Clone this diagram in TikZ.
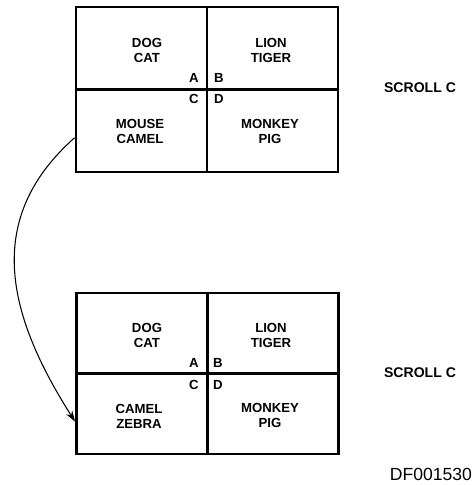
\documentclass[tikz,border=0pt]{standalone}
\usepackage{fontspec}
\setmainfont{Liberation Sans}
\usetikzlibrary{arrows.meta, positioning, calc}

\begin{document}
\begin{tikzpicture}[x=0.02cm, y=-0.02cm,
    grid/.style={draw, line width=1.6pt, minimum width=5.24cm, inner sep=0pt},
    animal/.style={font=\fontsize{7.5}{8.5}\selectfont\bfseries, align=center, inner sep=0pt},
    corner/.style={font=\fontsize{7.5}{8.5}\selectfont\bfseries, inner sep=0pt},
    scroll/.style={font=\fontsize{8}{9}\selectfont\bfseries, inner sep=0pt},
    arr/.style={-{Stealth[length=2.2mm, width=1.4mm]}, line width=0.6pt}
]
    \useasboundingbox (0,0) rectangle (475,485);

    % top grid
    \node[grid, minimum height=3.3cm] (g1) at (207,89.5) {};
    \draw[line width=1.6pt] (g1.north) -- (g1.south);
    \draw[line width=1.6pt] (g1.west) -- (g1.east);
    \node[animal] (dogcat1) at (147,50) {DOG\\CAT};
    \node[animal] (liontiger1) at (271,50) {LION\\TIGER};
    \node[animal] (mousecamel1) at (140,131) {MOUSE\\CAMEL};
    \node[animal] (monkeypig1) at (270,131) {MONKEY\\PIG};
    \node[corner] (a1) at (194,78) {A};
    \node[corner] (b1) at (219,78) {B};
    \node[corner] (c1) at (194,99) {C};
    \node[corner] (d1) at (219,99) {D};
    \node[scroll] (scroll1) at (420,88) {SCROLL C};

    % bottom grid
    \node[grid, minimum height=3.22cm] (g2) at (207.5,373.5) {};
    \draw[line width=1.6pt] (g2.north) -- (g2.south);
    \draw[line width=1.6pt] (g2.west) -- (g2.east);
    \node[animal] (dogcat2) at (147,335) {DOG\\CAT};
    \node[animal] (liontiger2) at (271,335) {LION\\TIGER};
    \node[animal] (camelzebra2) at (139,416) {CAMEL\\ZEBRA};
    \node[animal] (monkeypig2) at (270,415) {MONKEY\\PIG};
    \node[corner] (a2) at (194,363) {A};
    \node[corner] (b2) at (218,363) {B};
    \node[corner] (c2) at (194,385) {C};
    \node[corner] (d2) at (218,385) {D};
    \node[scroll] (scroll2) at (420,373) {SCROLL C};

    \node[font=\fontsize{10}{11}\selectfont, inner sep=0pt] (docid) at (431,474) {DF001530};

    \draw[arr] (g1.200) .. controls +(-90,80) and +(-70,-110) .. (g2.200);
\end{tikzpicture}
\end{document}
